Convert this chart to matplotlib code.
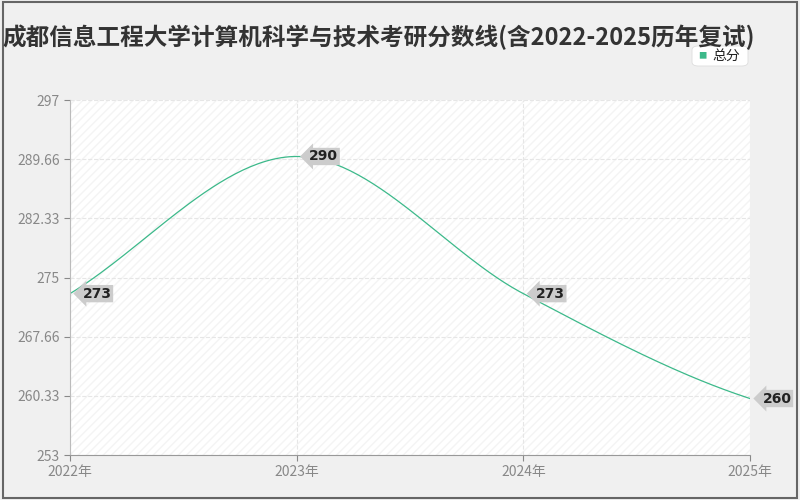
import numpy as np
import matplotlib
matplotlib.use("Agg")
import matplotlib.pyplot as plt
from matplotlib.patches import Rectangle, FancyBboxPatch

plt.rcParams['font.family'] = ['Noto Sans CJK SC', 'DejaVu Sans']

years = [2022, 2023, 2024, 2025]
xlabels = ['2022年', '2023年', '2024年', '2025年']
scores = [273, 290, 273, 260]
yticks = [253, 260.33, 267.66, 275, 282.33, 289.66, 297]
ylabels = ['253', '260.33', '267.66', '275', '282.33', '289.66', '297']

fig = plt.figure(figsize=(8, 5), dpi=100, facecolor='#f0f0f0')
fig.patches.append(Rectangle((0.004, 0.004), 0.992, 0.992, transform=fig.transFigure,
                             fill=False, edgecolor='#666', lw=1.5))
ax = fig.add_axes([0.0875, 0.09, 0.85, 0.71])
ax.set_facecolor('white')
ax.add_patch(Rectangle((0, 0), 1, 1, transform=ax.transAxes, fill=False,
                       hatch='////', edgecolor='#f4f4f4', lw=0))

# smooth curve (monotone cubic Hermite)
x = np.array(years, float); y = np.array(scores, float)
d = np.diff(y) / np.diff(x)
m = np.zeros_like(y)
m[0], m[-1] = d[0], d[-1] * 0.7
for i in range(1, len(y) - 1):
    m[i] = 0 if d[i-1] * d[i] <= 0 else 2 / (1/d[i-1] + 1/d[i])
xs, ys = [], []
for i in range(len(x) - 1):
    t = np.linspace(0, 1, 60); h = x[i+1] - x[i]
    h00 = 2*t**3 - 3*t**2 + 1; h10 = t**3 - 2*t**2 + t
    h01 = -2*t**3 + 3*t**2; h11 = t**3 - t**2
    xs += list(x[i] + t*h); ys += list(h00*y[i] + h10*h*m[i] + h01*y[i+1] + h11*h*m[i+1])
ax.plot(xs, ys, color='#3cb98a', lw=0.9)

for xi, yi in zip(years, scores):
    ax.annotate(str(yi), (xi, yi), xytext=(9, 0), textcoords='offset points',
                va='center', ha='left', fontsize=10, color='#222', fontweight='bold',
                family=['DejaVu Sans'],
                bbox=dict(boxstyle='larrow,pad=0.12', fc='#cccccc', ec='none'))

ax.set_xlim(2022, 2025)
ax.set_ylim(253, 297)
ax.set_xticks(years); ax.set_xticklabels(xlabels)
ax.set_yticks(yticks); ax.set_yticklabels(ylabels)
ax.tick_params(colors='#888', labelsize=10, length=4)
for lab in ax.get_xticklabels() + ax.get_yticklabels():
    lab.set_color('#888')
ax.grid(True, ls='--', color='#e6e6e6', lw=0.8)
for s in ['top', 'right']:
    ax.spines[s].set_visible(False)
ax.spines['left'].set_color('#bbb'); ax.spines['bottom'].set_color('#999')

fig.text(0.473, 0.925, '成都信息工程大学计算机科学与技术考研分数线(含2022-2025历年复试)',
         ha='center', va='center', fontsize=17, fontweight='bold', color='#333')
fig.patches.append(FancyBboxPatch((0.865, 0.868), 0.07, 0.04, transform=fig.transFigure,
                                  boxstyle='round,pad=0,rounding_size=0.008',
                                  fc='white', ec='#ddd', lw=0.6))
fig.text(0.878, 0.888, '■', color='#3cb98a', fontsize=6, ha='center', va='center')
fig.text(0.891, 0.888, '总分', color='#222', fontsize=10, ha='left', va='center')
fig.savefig('out.png', dpi=100, facecolor=fig.get_facecolor())
